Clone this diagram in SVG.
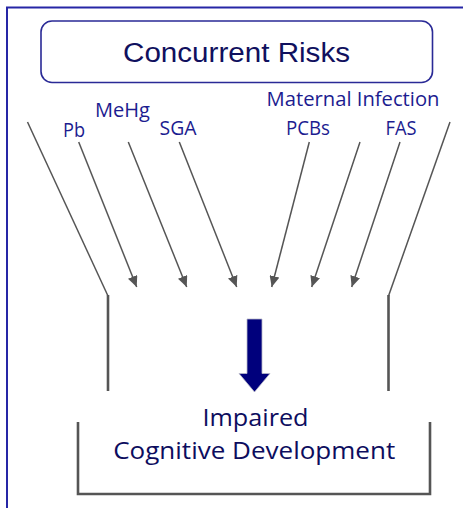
<svg xmlns="http://www.w3.org/2000/svg" width="463" height="508" viewBox="0 0 463 508">
<style>
.lbl{font-family:"Open Sans","Noto Sans",sans-serif;font-size:20px;fill:#1c1c90;text-anchor:middle}
.big{font-family:"Open Sans","Noto Sans",sans-serif;font-size:23px;fill:#0d0d5e;text-anchor:middle}
.title{font-family:"Liberation Sans",Arial,sans-serif;font-size:27px;fill:#10105e;text-anchor:middle}
.ln{stroke:#555;stroke-width:1.5;fill:none}
.arr{stroke:#555;stroke-width:1.5;fill:none;marker-end:url(#ah)}
.thick{stroke:#555;stroke-width:2.6;fill:none}
</style>
<defs>
<marker id="ah" markerUnits="userSpaceOnUse" markerWidth="12" markerHeight="10" refX="11" refY="5" orient="auto">
<path d="M0,0 L11,5 L0,10 z" fill="#555"/>
</marker>
</defs>
<rect width="463" height="508" fill="#fff"/>
<g id="frame">
<path d="M7,508 V7.5 H463" stroke="#2626a6" stroke-width="2" fill="none"/>
</g>
<g id="concurrent-risks">
<rect x="41" y="21" width="391.5" height="61.5" rx="11" fill="#fff" stroke="#2a2a96" stroke-width="1.6"/>
<text class="title" x="236.5" y="62" textLength="227" lengthAdjust="spacingAndGlyphs">Concurrent Risks</text>
</g>
<g id="labels">
<text class="lbl" x="74" y="137" textLength="22" lengthAdjust="spacingAndGlyphs">Pb</text>
<text class="lbl" x="122.5" y="117" textLength="55" lengthAdjust="spacingAndGlyphs">MeHg</text>
<text class="lbl" x="178" y="135" textLength="37" lengthAdjust="spacingAndGlyphs">SGA</text>
<text class="lbl" x="353" y="106" textLength="173" lengthAdjust="spacingAndGlyphs">Maternal Infection</text>
<text class="lbl" x="308" y="135" textLength="44" lengthAdjust="spacingAndGlyphs">PCBs</text>
<text class="lbl" x="401" y="135" textLength="31" lengthAdjust="spacingAndGlyphs">FAS</text>
</g>
<g id="connectors">
<path class="ln" d="M27.5,122 L108,296"/>
<path class="thick" d="M108,295 V391"/>
<path class="ln" d="M450,122 L388.5,296"/>
<path class="thick" d="M388.5,295 V391"/>
<line class="arr" x1="78.7" y1="142" x2="136.7" y2="287"/>
<line class="arr" x1="128.3" y1="142" x2="186.7" y2="287"/>
<line class="arr" x1="179.3" y1="142" x2="236.7" y2="287"/>
<line class="arr" x1="309.3" y1="142" x2="271.7" y2="287"/>
<line class="arr" x1="360" y1="142" x2="311.7" y2="287"/>
<line class="arr" x1="400" y1="142" x2="351.7" y2="287"/>
</g>
<g id="down-arrow">
<path d="M247,319 H262 V373.5 H270 L254.5,392 L239,373.5 H247 Z" fill="#00007c" stroke="#b8b8c8" stroke-width="0.8"/>
</g>
<g id="impaired-cognitive-development">
<path class="thick" d="M78,422 V494 H430 V422"/>
<text class="big" x="255.5" y="426" textLength="106" lengthAdjust="spacingAndGlyphs">Impaired</text>
<text class="big" x="254.2" y="458.5" textLength="282" lengthAdjust="spacingAndGlyphs">Cognitive Development</text>
</g>
</svg>
